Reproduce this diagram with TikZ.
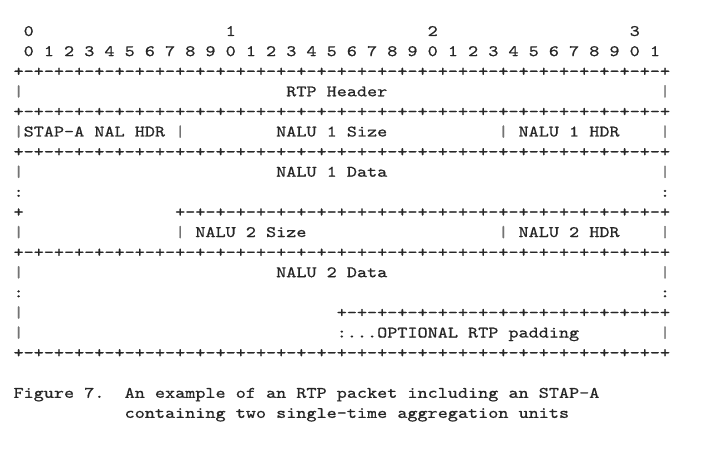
\documentclass[tikz,border=0pt]{standalone}
\usepackage{fontspec}
\setmonofont{lmmono10-regular.otf}[FakeStretch=1.2024, FakeBold=0.7]
\usepackage{tikz}
\usetikzlibrary{positioning}
\tikzstyle{ascii} = [anchor=base west, inner sep=0pt, outer sep=0pt, text=black!85, font=\ttfamily\fontsize{8pt}{10.05pt}\selectfont]
\tikzstyle{bar} = [ascii, text=black!55]
\tikzstyle{caption} = [ascii]
\newcommand{\bitrow}{+-+-+-+-+-+-+-+-+-+-+-+-+-+-+-+-+-+-+-+-+-+-+-+-+-+-+-+-+-+-+-+-+}
\newcommand{\halfrow}{+-+-+-+-+-+-+-+-+-+-+-+-+-+-+-+-+-+-+-+-+-+-+-+-+}
\newcommand{\quarterrow}{+-+-+-+-+-+-+-+-+-+-+-+-+-+-+-+-+}

\begin{document}
\begin{tikzpicture}[x=5.05pt, y=-10.05pt]
\useasboundingbox (-1.342,-1.791) rectangle (70.14,20.995);

% bit numbers
\foreach \d in {0,1,2,3}
  \node (tens\d) [ascii] at (1+20*\d,0) {\d};
\node (units) [ascii] at (1,1) {0 1 2 3 4 5 6 7 8 9 0 1 2 3 4 5 6 7 8 9 0 1 2 3 4 5 6 7 8 9 0 1};

% full rules
\foreach \r in {2,4,6,11,16}
  \node (rule\r) [ascii] at (0,\r) {\bitrow};
\node (rule9) [ascii] at (16,9) {\halfrow};
\node (rule14) [ascii] at (32,14) {\quarterrow};

% outer edges
\foreach \r in {3,5,7,10,12,14,15}
  \node (left\r) [bar] at (0,\r) {|};
\foreach \r in {3,5,7,10,12,15}
  \node (right\r) [bar] at (64,\r) {|};
\node (left8) [ascii] at (0,8) {:};
\node (right8) [ascii] at (64,8) {:};
\node (left9) [ascii] at (0,9) {+};
\node (left13) [ascii] at (0,13) {:};
\node (right13) [ascii] at (64,13) {:};

% fields
\node (rtp) [ascii] at (27,3) {RTP Header};
\node (stap) [ascii] at (1,5) {STAP-A NAL HDR};
\node (sep5a) [bar] at (16,5) {|};
\node (size1) [ascii] at (26,5) {NALU 1 Size};
\node (sep5b) [bar] at (48,5) {|};
\node (hdr1) [ascii] at (50,5) {NALU 1 HDR};
\node (data1) [ascii] at (26,7) {NALU 1 Data};
\node (sep10a) [bar] at (16,10) {|};
\node (size2) [ascii] at (18,10) {NALU 2 Size};
\node (sep10b) [bar] at (48,10) {|};
\node (hdr2) [ascii] at (50,10) {NALU 2 HDR};
\node (data2) [ascii] at (26,12) {NALU 2 Data};
\node (padding) [ascii] at (32,15) {:...OPTIONAL RTP padding};

% caption
\node (fig) [caption] at (0,18) {Figure 7.};
\node (cap1) [caption] at (11,18) {An example of an RTP packet including an STAP-A};
\node (cap2) [caption] at (11,19) {containing two single-time aggregation units};

\end{tikzpicture}
\end{document}
